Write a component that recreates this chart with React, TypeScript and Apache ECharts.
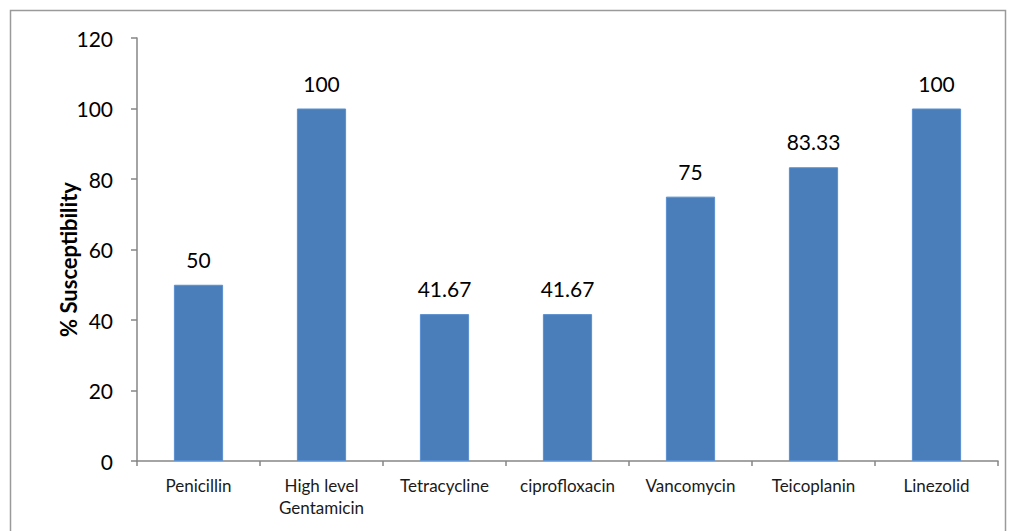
import React, { useEffect, useRef } from "react";
import * as echarts from "echarts";

const categories = ["Penicillin", "High level\nGentamicin", "Tetracycline", "ciprofloxacin", "Vancomycin", "Teicoplanin", "Linezolid"];
const susceptibility = [50, 100, 41.67, 41.67, 75, 83.33, 100];
const yTicks = { min: 0, max: 120, interval: 20 };

const FONT = "Lato";

export default function App() {
  const ref = useRef<HTMLDivElement>(null);
  useEffect(() => {
    document.body.style.margin = "0";
    const chart = echarts.init(ref.current!, null, { renderer: "svg" });
    chart.setOption({
      animation: false,
      backgroundColor: "#ffffff",
      graphic: [
        {
          type: "rect",
          shape: { x: 10.5, y: 10.5, width: 995, height: 540 },
          style: { fill: "none", stroke: "#9a9a9a", lineWidth: 1.5 },
          silent: true,
        },
      ],
      grid: { left: 137, right: 12, top: 38, bottom: 70 },
      xAxis: {
        type: "category",
        data: categories,
        axisLine: { lineStyle: { color: "#868686", width: 1.5 } },
        axisTick: { show: true, length: 5, lineStyle: { color: "#868686", width: 1.5 } },
        axisLabel: { color: "#1a1a1a", fontFamily: FONT, fontSize: 17, lineHeight: 22, margin: 13, interval: 0 },
      },
      yAxis: {
        type: "value",
        min: yTicks.min,
        max: yTicks.max,
        interval: yTicks.interval,
        name: "% Susceptibility",
        nameLocation: "middle",
        nameGap: 58,
        nameMoveOverlap: false,
        nameTextStyle: { color: "#000", fontFamily: FONT, fontSize: 22, fontWeight: "bold", padding: [0, 20, 0, 0] },
        axisLine: { show: true, lineStyle: { color: "#868686", width: 1.5 } },
        axisTick: { show: true, length: 6, lineStyle: { color: "#868686", width: 1.5 } },
        axisLabel: { color: "#000", fontFamily: FONT, fontSize: 21, margin: 24 },
        splitLine: { show: false },
      },
      series: [
        {
          type: "bar",
          data: susceptibility,
          barWidth: "40%",
          itemStyle: { color: "#4a7ebb", borderColor: "#5a8fcf", borderWidth: 1 },
          label: {
            show: true,
            position: "top",
            distance: 15,
            color: "#000",
            fontFamily: FONT,
            fontSize: 21,
          },
        },
      ],
    });
    return () => chart.dispose();
  }, []);
  return <div ref={ref} style={{ width: 1010, height: 531 }} />;
}
